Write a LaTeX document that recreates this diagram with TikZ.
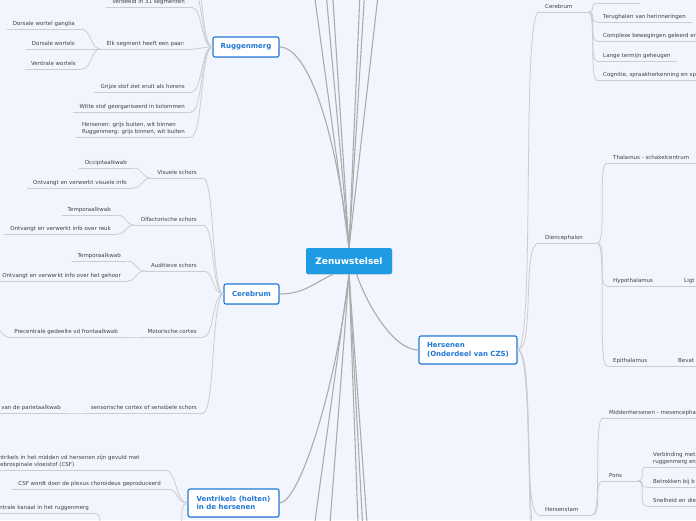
\documentclass[tikz,border=0pt]{standalone}
\usepackage{fontspec}
\setmainfont{DejaVu Sans}
\usepackage{xcolor}
\usetikzlibrary{positioning, shadows}

\definecolor{bgblue}{RGB}{242,245,253}
\definecolor{rootblue}{RGB}{30,155,226}
\definecolor{topicblue}{RGB}{33,120,212}
\definecolor{labelgray}{RGB}{64,64,72}
\definecolor{maingray}{RGB}{172,172,172}
\definecolor{subgray}{RGB}{205,205,208}

\tikzset{
  root/.style={fill=rootblue, text=white, rounded corners=2pt,
    font=\bfseries\fontsize{9}{11}\selectfont,
    minimum width=86pt, minimum height=26pt,
    drop shadow={shadow xshift=0.3pt, shadow yshift=-0.8pt, opacity=0.2}},
  topic/.style={draw=topicblue, fill=white, text=topicblue, line width=1.1pt,
    rounded corners=2pt, align=left, font=\bfseries\fontsize{7}{8.5}\selectfont,
    minimum height=20pt,
    drop shadow={shadow xshift=0.3pt, shadow yshift=-0.8pt, opacity=0.2}},
  lbl/.style={text=labelgray, font=\fontsize{5.5}{7}\selectfont, align=left,
    inner xsep=6pt, inner ysep=2.5pt, text depth=1.3pt},
  twoline/.style={text depth=},
  kidl/.style={lbl, anchor=south east},
  kidr/.style={lbl, anchor=south west},
  main/.style={draw=maingray, line width=1.1pt},
  sub/.style={draw=subgray, line width=0.8pt},
}

\begin{document}
\begin{tikzpicture}[x=1pt, y=-1pt]
\useasboundingbox (0,0) rectangle (696,520);
\clip (0,0) rectangle (696,520);
\fill[bgblue] (0,0) rectangle (696,520);

% Centre and main topics
\node[root] (cen) at (349,261) {Zenuwstelsel};
\node[topic, minimum width=66pt] (rug) at (246,47) {Ruggenmerg};
\node[topic, minimum width=55pt] (cer) at (251.5,294) {Cerebrum};
\node[topic, minimum width=91pt, minimum height=28pt] (vent) at (233.5,503) {Ventrikels (holten)\\in de hersenen};
\node[topic, minimum width=98pt, minimum height=28pt] (hers) at (468,350) {Hersenen\\(Onderdeel van CZS)};

% Ruggenmerg
\node[kidl] (rseg) at (191,7) {Verdeeld in 31 segmenten};
\node[kidl] (rpaar) at (191,49) {Elk segment heeft een paar:};
\node[kidl] (pgang) at (81,29) {Dorsale wortel ganglia};
\node[kidl] (pdors) at (81,49) {Dorsale wortels};
\node[kidl] (pvent) at (82,69) {Ventrale wortels};
\node[kidl] (rgrijs) at (191,92) {Grijze stof ziet eruit als horens};
\node[kidl] (rwit) at (191,112) {Witte stof georganiseerd in kolommen};
\node[kidl, twoline] (rhers) at (191,137) {Hersenen: grijs buiten, wit binnen\\Ruggenmerg: grijs binnen, wit buiten};
\coordinate (rtop1) at (191,-14);
\coordinate (rtop2) at (191,-40);

% Cerebrum (left)
\node[kidl] (cvis) at (203,178) {Visuele schors};
\node[kidl] (cocc) at (133,168) {Occipitaalkwab};
\node[kidl] (cvinf) at (133,188) {Ontvangt en verwerkt visuele info};
\node[kidl] (colf) at (203,225) {Olfactorische schors};
\node[kidl] (ctmp1) at (117,215) {Temporaalkwab};
\node[kidl] (creuk) at (117,234) {Ontvangt en verwerkt info over reuk};
\node[kidl] (caud) at (203,271) {Auditieve schors};
\node[kidl] (ctmp2) at (127,261) {Temporaalkwab};
\node[kidl] (cgeh) at (127,281) {Ontvangt en verwerkt info over het gehoor};
\node[kidl] (cmot) at (203,337) {Motorische cortex};
\node[kidl] (cprec) at (124,337) {Precentrale gedeelte vd frontaalkwab};
\node[kidl] (csens) at (203,413) {sensorische cortex of sensibele schors};
\node[kidl] (cpost) at (67,413) {Postcentrale gedeelte van de parietaalkwab};
\coordinate (cprecl) at (-24,300);

% Ventrikels
\node[kidl, twoline, text width=167pt] (vcsf) at (165,470) {Ventrikels in het midden vd hersenen zijn gevuld met\\cerebrospinale vloeistof (CSF)};
\node[kidl] (vplex) at (167,489) {CSF wordt door de plexus choroideus geproduceerd};
\node[kidl] (vkan) at (95,513) {Centrale kanaal in het ruggenmerg};
\coordinate (vlow) at (176,548);
\coordinate (vloww) at (106,548);

% Hersenen: Cerebrum
\node[kidr, text width=37pt] (rcer) at (539,12) {Cerebrum};
\coordinate (ktopw) at (597,3);
\coordinate (ktope) at (640,3);
\node[kidr] (kter) at (597,22) {Terughalen van herinneringen};
\node[kidr, text width=120pt] (kcom) at (597,41) {Complexe bewegingen geleerd en};
\node[kidr] (klang) at (597,61) {Lange termijn geheugen};
\node[kidr, text width=120pt] (kcog) at (597,80) {Cognitie, spraakherkenning en sp};

% Hersenen: Diencephalon
\node[kidr, text width=46pt] (rdie) at (539,243) {Diencephalon};
\node[kidr] (dtha) at (607,163) {Thalamus - schakelcentrum};
\node[kidr] (dhyp) at (607,286) {Hypothalamus};
\node[kidr, text width=40pt] (dligt) at (678,286) {Ligt};
\node[kidr] (depi) at (607,366) {Epithalamus};
\node[kidr, text width=40pt] (dbev) at (672,366) {Bevat};
\coordinate (dthao) at (740,163);

% Hersenen: Hersenstam
\node[kidr, text width=41pt] (rstam) at (539,515) {Hersenstam};
\node[kidr, text width=120pt] (smid) at (603,418) {Middenhersenen - mesencephalon};
\node[kidr, text width=22pt] (spons) at (603,481) {Pons};
\node[kidr, twoline, text width=60pt] (pverb) at (647,467) {Verbinding met\\ruggenmerg en};
\node[kidr, text width=60pt] (pbetr) at (647,487) {Betrokken bij b};
\node[kidr, text width=60pt] (psnel) at (647,506) {Snelheid en die};
\coordinate (hlow1) at (541,560);
\coordinate (hlow2) at (541,610);

% branches of the centre running out of the frame
\foreach \n/\x in {t1/311, t2/324, t3/331, t4/361, t5/366, t6/381}
  \coordinate (\n) at (\x,-30);
\foreach \n/\x in {b1/311, b2/328, b3/359, b4/364, b5/369}
  \coordinate (\n) at (\x,550);
\foreach \n in {t1,t2,t3,t4,t5,t6} \draw[main] (cen.north) -- (\n);
\foreach \n in {b1,b2,b3,b4,b5} \draw[main] (cen.south) -- (\n);

% main branches
\draw[main] (rug.east) .. controls +(30,0) and +(-12,-110) .. (cen.north);
\draw[main] (cer.east) .. controls +(25,0) and +(-18,8) .. (cen.220);
\draw[main] (vent.east) .. controls +(20,0) and +(-12,110) .. (cen.south);
\draw[main] (cen.300) .. controls +(10,30) and +(-25,0) .. (hers.west);

% underlines
\foreach \n in {rseg,rpaar,pgang,pdors,pvent,rgrijs,rwit,rhers,
    cvis,cocc,cvinf,colf,ctmp1,creuk,caud,ctmp2,cgeh,cmot,cprec,csens,cpost,
    vcsf,vplex,vkan,rcer,kter,kcom,klang,kcog,rdie,dtha,dhyp,dligt,depi,dbev,
    rstam,smid,spons,pverb,pbetr,psnel}
  \draw[sub] (\n.south west) -- (\n.south east);
\draw[sub] (ktopw) -- (ktope);

% left sub branches
\foreach \kid in {rseg,rpaar,rgrijs,rwit,rhers}
  \draw[sub] (rug.west) .. controls +(-12,0) and +(12,0) .. (\kid.south east);
\foreach \kid in {rtop1,rtop2}
  \draw[sub] (rug.west) .. controls +(-12,0) and +(12,0) .. (\kid);
\foreach \kid in {pgang,pdors,pvent}
  \draw[sub] (rpaar.south west) .. controls +(-10,0) and +(10,0) .. (\kid.south east);
\foreach \kid in {cvis,colf,caud,cmot,csens}
  \draw[sub] (cer.west) .. controls +(-12,0) and +(12,0) .. (\kid.south east);
\foreach \pa/\kid in {cvis/cocc, cvis/cvinf, colf/ctmp1, colf/creuk, caud/ctmp2,
    caud/cgeh, cmot/cprec, csens/cpost}
  \draw[sub] (\pa.south west) .. controls +(-10,0) and +(10,0) .. (\kid.south east);
\draw[sub] (cprec.south west) .. controls +(-10,0) and +(10,0) .. (cprecl);
\foreach \kid in {vcsf,vplex}
  \draw[sub] (vent.west) .. controls +(-12,0) and +(12,0) .. (\kid.south east);
\draw[sub] (vent.west) .. controls +(-12,0) and +(12,0) .. (vlow);
\draw[sub] (vloww) .. controls +(-10,0) and +(10,0) .. (vkan.south east);

% right sub branches
\foreach \kid in {rcer,rdie,rstam}
  \draw[sub] (hers.east) .. controls +(18,0) and +(-18,0) .. (\kid.south west);
\foreach \kid in {hlow1,hlow2}
  \draw[sub] (hers.east) .. controls +(18,0) and +(-18,0) .. (\kid);
\draw[sub] (rcer.south east) .. controls +(8,0) and +(-8,0) .. (ktopw);
\foreach \kid in {kter,kcom,klang,kcog}
  \draw[sub] (rcer.south east) .. controls +(8,0) and +(-8,0) .. (\kid.south west);
\foreach \kid in {dtha,dhyp,depi}
  \draw[sub] (rdie.south east) .. controls +(10,0) and +(-10,0) .. (\kid.south west);
\draw[sub] (dtha.south east) -- (dthao);
\draw[sub] (dhyp.south east) -- (dligt.south west);
\draw[sub] (depi.south east) -- (dbev.south west);
\foreach \kid in {smid,spons}
  \draw[sub] (rstam.south east) .. controls +(10,0) and +(-10,0) .. (\kid.south west);
\foreach \kid in {pverb,pbetr,psnel}
  \draw[sub] (spons.south east) .. controls +(10,0) and +(-10,0) .. (\kid.south west);

\end{tikzpicture}
\end{document}
